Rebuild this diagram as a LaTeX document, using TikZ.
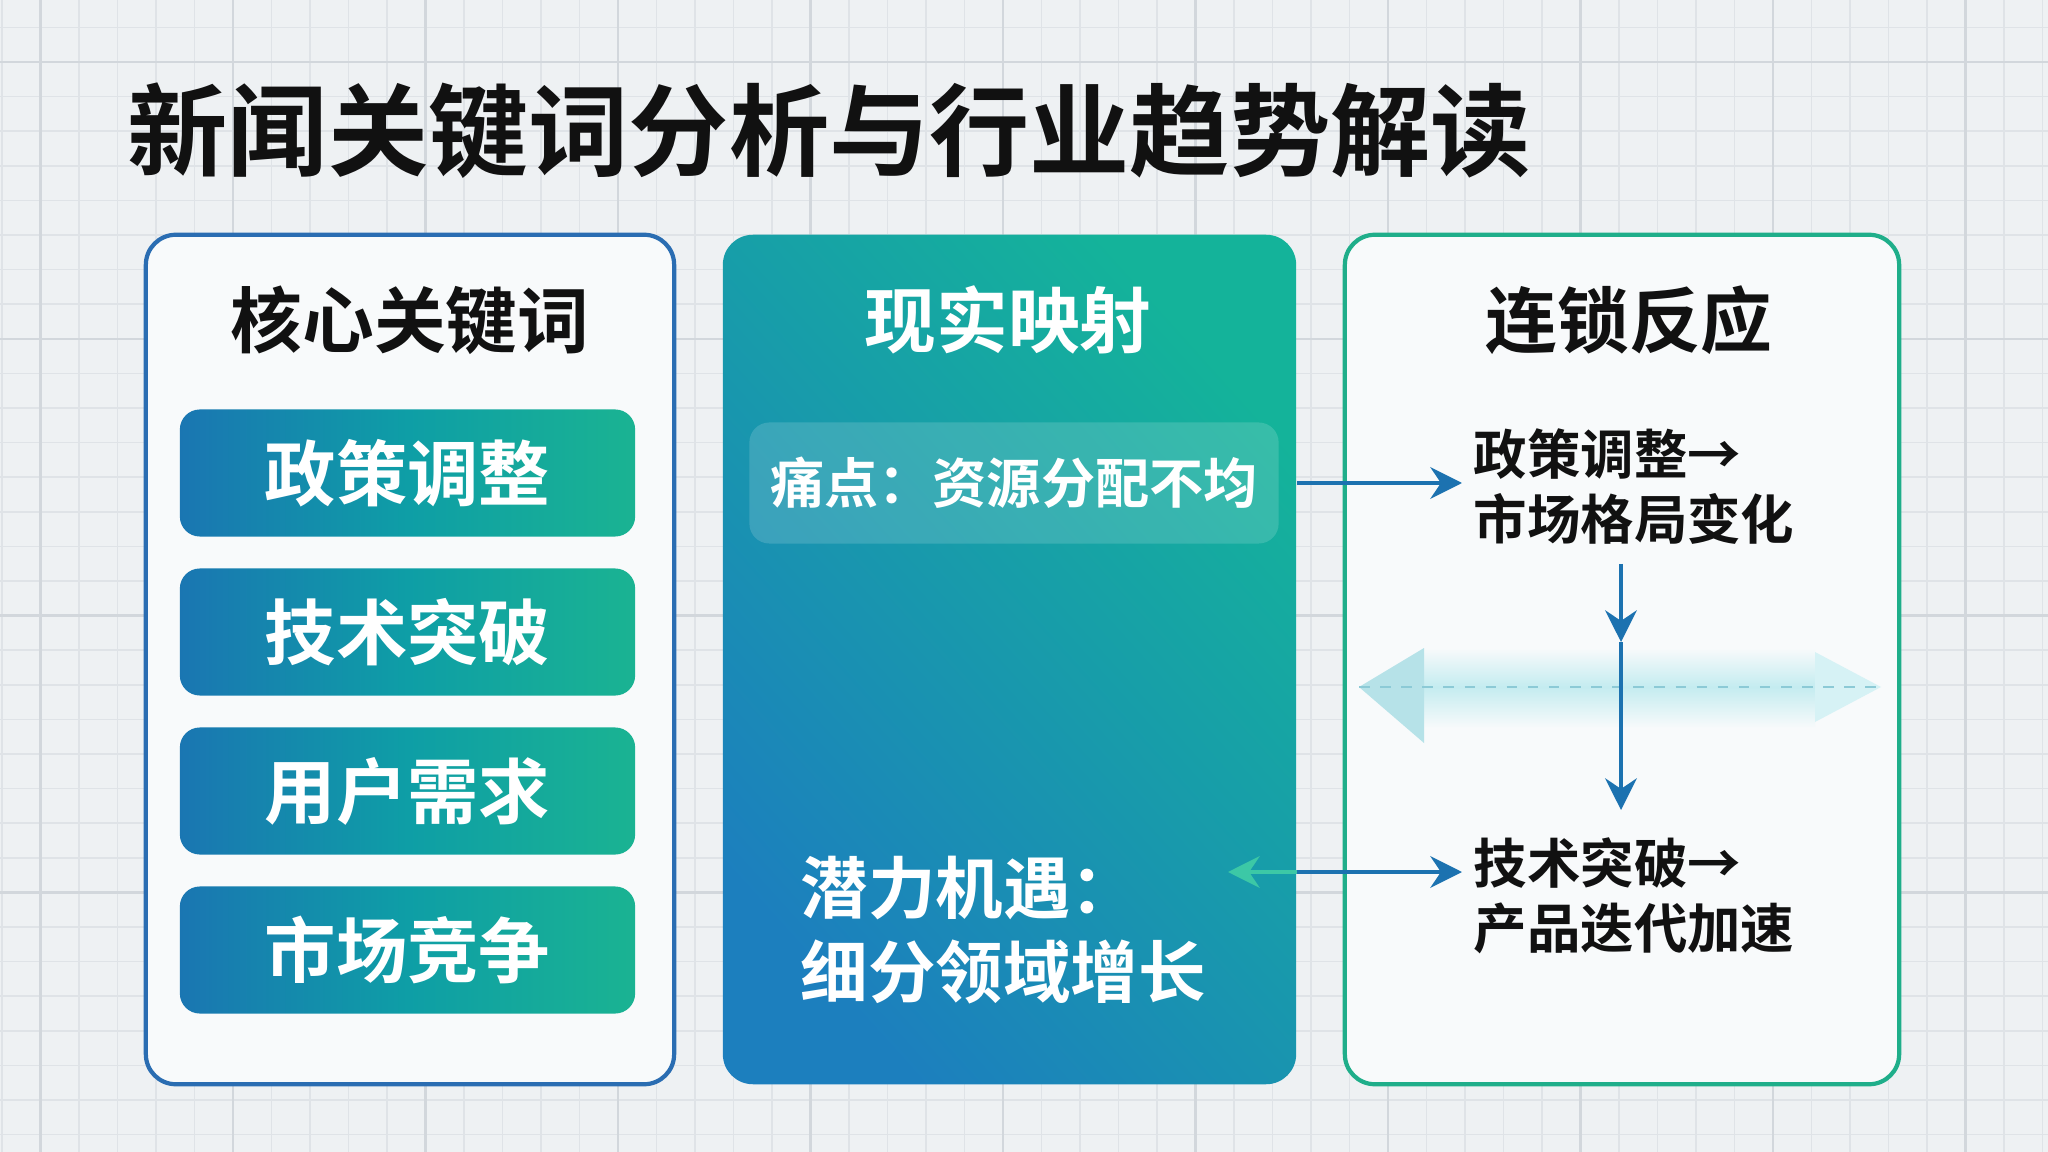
\documentclass[tikz,border=0pt]{standalone}
\usepackage{fontspec}
\setmainfont{Noto Sans CJK SC}[BoldFont={Noto Sans CJK SC Bold}]
\usetikzlibrary{arrows.meta,positioning,calc}
\definecolor{bgpaper}{HTML}{EEF1F3}
\definecolor{gridline}{HTML}{DFE3E7}
\definecolor{gridmajor}{HTML}{D2D7DC}
\definecolor{deepblue}{HTML}{1A76B2}
\definecolor{midteal}{HTML}{0E9EA6}
\definecolor{seagreen}{HTML}{1AB392}
\definecolor{panelblue}{HTML}{1C7FBE}
\definecolor{panelteal}{HTML}{10A7A6}
\definecolor{panelgreen}{HTML}{14B39A}
\definecolor{flowblue}{HTML}{1C72B0}
\definecolor{framegreen}{HTML}{1FAE8A}
\definecolor{frameblue}{HTML}{2A6DB2}
\definecolor{panelwhite}{HTML}{F8FAFB}
\definecolor{faint}{HTML}{B6E2E8}
\definecolor{faintband}{HTML}{C4ECF0}
\definecolor{faintdash}{HTML}{8CCAD6}
\definecolor{inkblack}{HTML}{111111}
\definecolor{lightgreen}{HTML}{3CC8A6}
\tikzset{
  panel/.style={draw, line width=1.2pt, rounded corners=0.3cm, fill=panelwhite,
    minimum height=8.49cm},
  kwbox/.style={rounded corners=0.2cm, left color=deepblue, right color=seagreen,
    middle color=midteal, minimum width=4.55cm, minimum height=1.27cm, text=white,
    font=\bfseries\fontsize{20.3}{24}\selectfont},
  headtext/.style={font=\bfseries\fontsize{20.4}{24}\selectfont},
  chaintext/.style={anchor=west, inner sep=0pt, align=left, text=inkblack,
    font=\bfseries\fontsize{15.2}{18.5}\selectfont},
  flow/.style={draw=flowblue, line width=1.1pt, -{Stealth[length=9pt,width=9pt,inset=3pt]}}
}
\begin{document}
\begin{tikzpicture}[x=0.01cm,y=-0.01cm]
    \fill[bgpaper] (0,0) rectangle (2048,1152);
    \useasboundingbox (0,0) rectangle (2048,1152);
    % grid
    \foreach \i in {0,...,53} \draw[gridline, line width=0.5pt] (2+\i*38.5,0) -- (2+\i*38.5,1152);
    \foreach \j in {0,...,33} \draw[gridline, line width=0.5pt] (0,-7.2+\j*34.6) -- (2048,-7.2+\j*34.6);
    \foreach \i in {1,6,...,51} \draw[gridmajor, line width=0.7pt] (2+\i*38.5,0) -- (2+\i*38.5,1152);
    \foreach \j in {2,10,...,33} \draw[gridmajor, line width=0.7pt] (0,-7.2+\j*34.6) -- (2048,-7.2+\j*34.6);

    \node[anchor=west, inner sep=0pt, text=inkblack, font=\bfseries\fontsize{28.5}{32}\selectfont] (title) at (127,131) {新闻关键词分析与行业趋势解读};

    % panels
    \node[panel, draw=frameblue, minimum width=5.28cm] (lpanel) at (410,659.5) {};
    \node[rounded corners=0.3cm, minimum width=5.73cm, minimum height=8.49cm,
      top color=panelgreen, middle color=panelteal, bottom color=panelblue, shading angle=-48] (mpanel) at (1009.5,659.5) {};
    \node[panel, draw=framegreen, minimum width=5.54cm] (rpanel) at (1622,659.5) {};

    \node[headtext, text=inkblack] (ltitle) at (410,320) {核心关键词};
    \node[headtext, text=white] (mtitle) at (1008,320) {现实映射};
    \node[headtext, text=inkblack] (rtitle) at (1629,320) {连锁反应};

    \foreach \word [count=\i] in {政策调整,技术突破,用户需求,市场竞争}
        \node[kwbox] (kw\i) at (407.5,{473+159*(\i-1)}) {\word};

    \node[fill=white, fill opacity=0.15, text opacity=1, rounded corners=0.2cm,
      minimum width=5.29cm, minimum height=1.21cm, text=white,
      font=\bfseries\fontsize{15.4}{18}\selectfont] (pain) at (1014,483) {痛点：资源分配不均};
    \node[anchor=west, inner sep=0pt, align=left, text=white,
      font=\bfseries\fontsize{19.2}{24}\selectfont] (chance) at (800,930) {潜力机遇：\\细分领域增长};

    \node[chaintext] (r1) at (1473,487) {政策调整→\\市场格局变化};
    \node[chaintext] (r2) at (1473,896) {技术突破→\\产品迭代加速};

    % faint two-way band
    \shade[top color=panelwhite, bottom color=faintband] (1424,648) rectangle (1815,687);
    \shade[top color=faintband, bottom color=panelwhite] (1424,687) rectangle (1815,728);
    \fill[faint] (1359,687) -- (1424,648) -- (1424,743) -- cycle;
    \fill[faintband!70] (1815,652) -- (1881,687) -- (1815,722) -- cycle;
    \draw[faintdash, dashed, line width=0.6pt] (1359,687) -- (1881,687);

    \coordinate (vtop) at (1621,564);
    \coordinate (hub) at (1621,642);
    \coordinate (vbot) at (1621,810);
    \coordinate (chanceend) at (1228,872);

    \draw[flow] (mpanel.east |- pain.east) -- ([xshift=-0.11cm]r1.west |- pain.east);
    \draw[flow] (vtop) -- (hub);
    \draw[flow] (hub) -- (vbot);
    \draw[draw=lightgreen, line width=1.1pt, {Stealth[length=9pt,width=9pt,inset=3pt]}-] (chanceend) -- (mpanel.east |- chanceend);
    \draw[flow] (mpanel.east |- chanceend) -- ([xshift=-0.11cm]r2.west |- chanceend);
\end{tikzpicture}
\end{document}
